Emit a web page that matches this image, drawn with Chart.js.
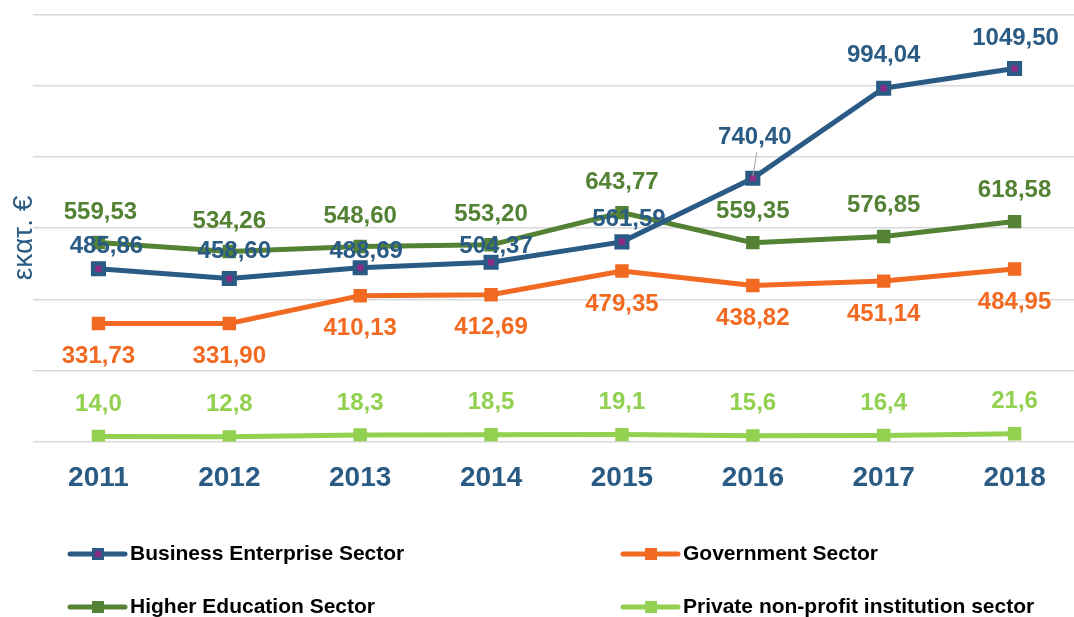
<!DOCTYPE html>
<html>
<head>
<meta charset="utf-8">
<script src="https://cdn.jsdelivr.net/npm/chart.js@4.4.1/dist/chart.umd.min.js"></script>
<style>
  html, body { margin: 0; padding: 0; background: #fff; overflow: hidden; }
  #wrap { width: 1092px; height: 617px; }
</style>
</head>
<body>
<div id="wrap"><canvas id="rdChart" width="1092" height="617"></canvas></div>
<script>
const years = ['2011', '2012', '2013', '2014', '2015', '2016', '2017', '2018'];
const business = [485.86, 458.60, 488.69, 504.37, 561.59, 740.40, 994.04, 1049.50];
const government = [331.73, 331.90, 410.13, 412.69, 479.35, 438.82, 451.14, 484.95];
const higherEd = [559.53, 534.26, 548.60, 553.20, 643.77, 559.35, 576.85, 618.58];
const privateNp = [14.0, 12.8, 18.3, 18.5, 19.1, 15.6, 16.4, 21.6];

const BLUE = '#2a5b84';
const PURPLE = '#8e2b8a';
const GREEN = '#548235';
const ORANGE = '#f26a21';
const LIGHT = '#92d050';

// label placement per series (pixels, relative to the point)
const labelStyle = [
    { color: BLUE, decimals: 2, dx: [8, 5, 6, 5, 7, 2, 0, 1], dy: [-22, -27, -16, -16, -22, -41, -33, -30] },
    { color: ORANGE, decimals: 2, dx: [0,0,0,0,0,0,0,0], dy: [33,33,33,33,33,33,33,33] },
    { color: GREEN, decimals: 2, dx: [2,0,0,0,0,0,0,0], dy: [-30,-30,-30,-30,-30,-31,-31,-31] },
    { color: LIGHT, decimals: 1, dx: [0,0,0,0,0,0,0,0], dy: [-32,-32,-32,-32,-32,-32,-32,-32] }
];

const valueLabels = {
    id: 'valueLabels',
    afterDatasetsDraw(chart) {
        const ctx = chart.ctx;
        ctx.save();
        ctx.font = 'bold 24px "Liberation Sans", Arial, sans-serif';
        ctx.textAlign = 'center';
        ctx.textBaseline = 'middle';
        chart.data.datasets.forEach((ds, i) => {
            const st = labelStyle[i];
            chart.getDatasetMeta(i).data.forEach((pt, j) => {
                const x = pt.x + st.dx[j];
                const y = pt.y + st.dy[j];
                if (st.dy[j] < -35) {
                    ctx.strokeStyle = '#a6a6a6';
                    ctx.lineWidth = 1;
                    ctx.beginPath();
                    ctx.moveTo(x + 2, y + 15);
                    ctx.lineTo(pt.x, pt.y - 2);
                    ctx.stroke();
                }
                ctx.fillStyle = st.color;
                ctx.fillText(ds.data[j].toFixed(st.decimals).replace('.', ','), x, y);
            });
        });
        ctx.restore();
    }
};

// y title and two-column legend
const extras = {
    id: 'extras',
    afterDraw(chart) {
        const ctx = chart.ctx;
        ctx.save();
        ctx.translate(24, 238);
        ctx.rotate(-Math.PI / 2);
        ctx.font = '28px "Liberation Sans", Arial, sans-serif';
        ctx.fillStyle = BLUE;
        ctx.textAlign = 'center';
        ctx.textBaseline = 'middle';
        ctx.fillText('εκατ. €', 0, 0);
        ctx.restore();

        const items = [
            { x: 70, y: 554, color: BLUE, inner: PURPLE, text: chart.data.datasets[0].label },
            { x: 623, y: 554, color: ORANGE, text: chart.data.datasets[1].label },
            { x: 70, y: 607, color: GREEN, text: chart.data.datasets[2].label },
            { x: 623, y: 607, color: LIGHT, text: chart.data.datasets[3].label }
        ];
        ctx.save();
        ctx.font = 'bold 21px "Liberation Sans", Arial, sans-serif';
        ctx.textBaseline = 'middle';
        items.forEach(it => {
            ctx.strokeStyle = it.color;
            ctx.lineWidth = 5;
            ctx.lineCap = 'round';
            ctx.beginPath();
            ctx.moveTo(it.x, it.y);
            ctx.lineTo(it.x + 55, it.y);
            ctx.stroke();
            ctx.fillStyle = it.color;
            ctx.fillRect(it.x + 22, it.y - 6, 12, 12);
            if (it.inner) {
                ctx.fillStyle = it.inner;
                ctx.fillRect(it.x + 25, it.y - 3, 6, 6);
            }
            ctx.fillStyle = '#000';
            ctx.fillText(it.text, it.x + 60, it.y);
        });
        ctx.restore();
    }
};

const ctx = document.getElementById('rdChart').getContext('2d');
new Chart(ctx, {
    type: 'line',
    data: {
        labels: years,
        datasets: [
            {
                label: 'Business Enterprise Sector',
                data: business,
                borderColor: BLUE,
                borderWidth: 5,
                pointStyle: 'rect',
                pointRadius: 7.5,
                pointBorderWidth: 4.5,
                pointBackgroundColor: PURPLE,
                pointBorderColor: BLUE
            },
            {
                label: 'Government Sector',
                data: government,
                borderColor: ORANGE,
                borderWidth: 5,
                pointStyle: 'rect',
                pointRadius: 9.5,
                pointBorderWidth: 0,
                pointBackgroundColor: ORANGE
            },
            {
                label: 'Higher Education Sector',
                data: higherEd,
                borderColor: GREEN,
                borderWidth: 5,
                pointStyle: 'rect',
                pointRadius: 9.5,
                pointBorderWidth: 0,
                pointBackgroundColor: GREEN
            },
            {
                label: 'Private non-profit institution sector',
                data: privateNp,
                borderColor: LIGHT,
                borderWidth: 5,
                pointStyle: 'rect',
                pointRadius: 9.5,
                pointBorderWidth: 0,
                pointBackgroundColor: LIGHT
            }
        ]
    },
    options: {
        responsive: false,
        animation: false,
        layout: { padding: { left: 33, right: 0, top: 15, bottom: 102 } },
        plugins: {
            legend: { display: false },
            tooltip: { enabled: false }
        },
        scales: {
            x: {
                offset: true,
                grid: { display: false, drawTicks: false },
                border: { display: false },
                ticks: {
                    color: BLUE,
                    padding: 20,
                    font: { family: '"Liberation Sans", Arial, sans-serif', size: 28, weight: 'bold' }
                }
            },
            y: {
                min: 0,
                max: 1200,
                grid: { color: '#d9d9d9', lineWidth: 1.5, drawTicks: false },
                border: { display: false },
                ticks: { display: false, stepSize: 200 }
            }
        }
    },
    plugins: [valueLabels, extras]
});
</script>
</body>
</html>
